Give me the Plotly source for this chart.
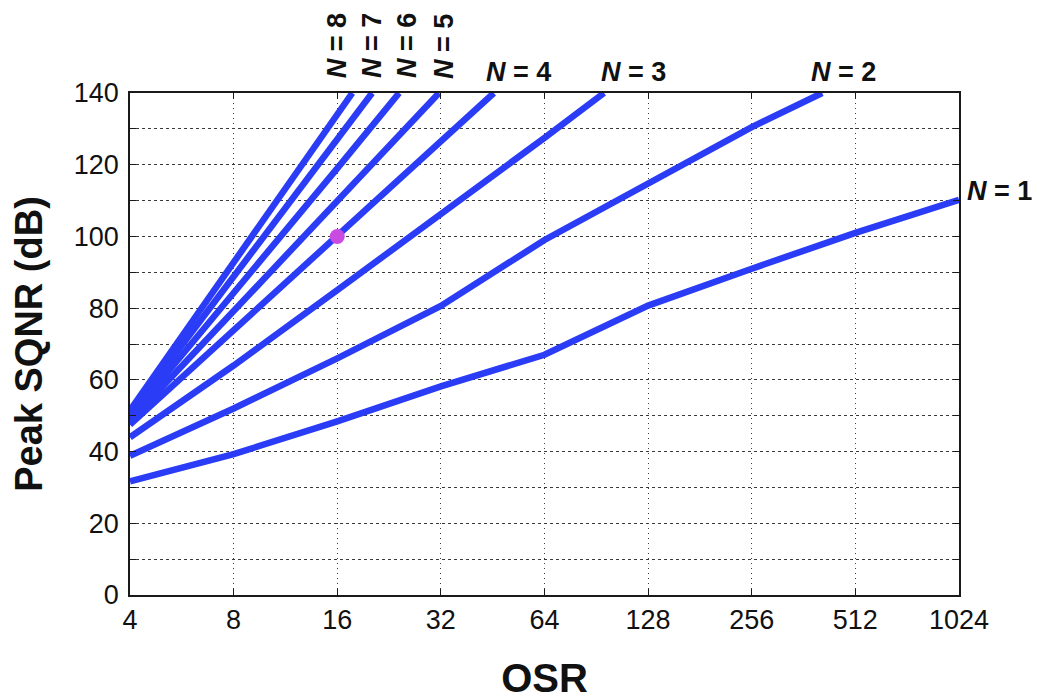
import math
import plotly.graph_objects as go

# ---------------- data ----------------
OSR_TICKS = [4, 8, 16, 32, 64, 128, 256, 512, 1024]
OSR_TICK_LABELS = ["4", "8", "16", "32", "64", "128", "256", "512", "1024"]
SQNR_TICKS = [0, 10, 20, 30, 40, 50, 60, 70, 80, 90, 100, 110, 120, 130, 140]
SQNR_TICK_LABELS = ["0", "", "20", "", "40", "", "60", "", "80", "", "100", "", "120", "", "140"]

n1_osr = [4, 8, 16, 32, 64, 128, 256, 512, 1024]
n1_sqnr = [31.7, 39.3, 48.4, 58.2, 67.0, 80.7, 91.0, 101.0, 110.2]

n2_osr = [4, 8, 16, 32, 64, 128, 256, 410]
n2_sqnr = [38.8, 52.0, 66.0, 80.6, 99.0, 114.5, 130.5, 140.0]

n3_osr = [4, 8, 16, 32, 64, 95.3]
n3_sqnr = [44.0, 64.0, 85.0, 106.0, 127.5, 140.0]

n4_osr = [4, 8, 16, 32, 45.6]
n4_sqnr = [47.5, 74.0, 100.0, 126.5, 140.0]

n5_osr = [4, 8, 16, 31.6]
n5_sqnr = [48.5, 79.0, 109.5, 140.0]

n6_osr = [4, 8, 16, 24.2]
n6_sqnr = [49.5, 84.0, 119.0, 140.0]

n7_osr = [4, 8, 16, 20.2]
n7_sqnr = [50.5, 88.5, 127.0, 140.0]

n8_osr = [4, 8, 16, 17.7]
n8_sqnr = [51.5, 93.0, 134.0, 140.0]

series_names = ["N = 1", "N = 2", "N = 3", "N = 4", "N = 5", "N = 6", "N = 7", "N = 8"]
series_osr = [n1_osr, n2_osr, n3_osr, n4_osr, n5_osr, n6_osr, n7_osr, n8_osr]
series_sqnr = [n1_sqnr, n2_sqnr, n3_sqnr, n4_sqnr, n5_sqnr, n6_sqnr, n7_sqnr, n8_sqnr]

example_osr = [16]
example_sqnr = [100]

# ---------------- styling ----------------
FONT = "Liberation Sans, Arial, Helvetica, sans-serif"
LINE_COLOR = "#2b3cf6"
DOT_COLOR = "#c94be2"
GRID_COLOR = "#3a3a3a"

fig = go.Figure()

for name, xs, ys in zip(series_names, series_osr, series_sqnr):
    fig.add_trace(go.Scatter(
        x=xs, y=ys, mode="lines", name=name,
        line=dict(color=LINE_COLOR, width=6.5),
        hoverinfo="x+y+name",
    ))

fig.add_trace(go.Scatter(
    x=example_osr, y=example_sqnr, mode="markers", name="example",
    marker=dict(color=DOT_COLOR, size=15, line=dict(width=0)),
))

# label annotations, anchored at each curve's last point
label_font = dict(family=FONT, size=27, color="#111111")
horiz_shift = {"N = 4": 25, "N = 3": 29, "N = 2": 21}
rot_shift = {"N = 8": -15, "N = 7": 0, "N = 6": 8, "N = 5": 5}
for name, xs, ys in zip(series_names, series_osr, series_sqnr):
    txt = "<b><i>N</i>" + name[1:] + "</b>"
    if name in horiz_shift:
        fig.add_annotation(x=math.log10(xs[-1]), y=ys[-1], xref="x", yref="y",
                           text=txt, showarrow=False, font=label_font,
                           xanchor="center", yanchor="middle",
                           xshift=horiz_shift[name], yshift=21)
    elif name in rot_shift:
        fig.add_annotation(x=math.log10(xs[-1]), y=ys[-1], xref="x", yref="y",
                           text=txt, showarrow=False, font=label_font,
                           textangle=-90, xanchor="center", yanchor="middle",
                           xshift=rot_shift[name], yshift=47)
    else:
        fig.add_annotation(x=math.log10(xs[-1]), y=ys[-1], xref="x", yref="y",
                           text=txt, showarrow=False, font=label_font,
                           xanchor="left", yanchor="middle",
                           xshift=6, yshift=9)

axis_common = dict(
    showline=True, linecolor="#1a1a1a", linewidth=1.5, mirror="ticks",
    ticks="inside", ticklen=6, tickwidth=1, tickcolor="#1a1a1a",
    showgrid=True, gridcolor=GRID_COLOR, gridwidth=1,
    zeroline=False,
    tickfont=dict(family=FONT, size=27, color="#111111"),
)

fig.update_xaxes(
    type="log",
    range=[math.log10(OSR_TICKS[0]), math.log10(OSR_TICKS[-1])],
    tickmode="array", tickvals=OSR_TICKS, ticktext=OSR_TICK_LABELS,
    griddash="1px,4px",
    title=dict(text="<b>OSR</b>", font=dict(family=FONT, size=40, color="#111111"), standoff=45),
    automargin=False,
    **axis_common,
)
fig.update_yaxes(
    range=[SQNR_TICKS[0], SQNR_TICKS[-1]],
    tickmode="array", tickvals=SQNR_TICKS, ticktext=SQNR_TICK_LABELS,
    griddash="3px,3px",
    ticklabelstandoff=4,
    title=dict(text="<b>Peak SQNR (dB)</b>", font=dict(family=FONT, size=38, color="#111111"), standoff=22),
    automargin=False,
    **axis_common,
)

# the page adds an 8px body margin, so the canvas is 8px smaller
fig.update_layout(
    width=1032, height=692,
    margin=dict(l=122, r=81, t=85, b=105, autoexpand=False),
    paper_bgcolor="white", plot_bgcolor="white",
    showlegend=False,
    font=dict(family=FONT, color="#111111"),
)

fig.write_html("out.html")
